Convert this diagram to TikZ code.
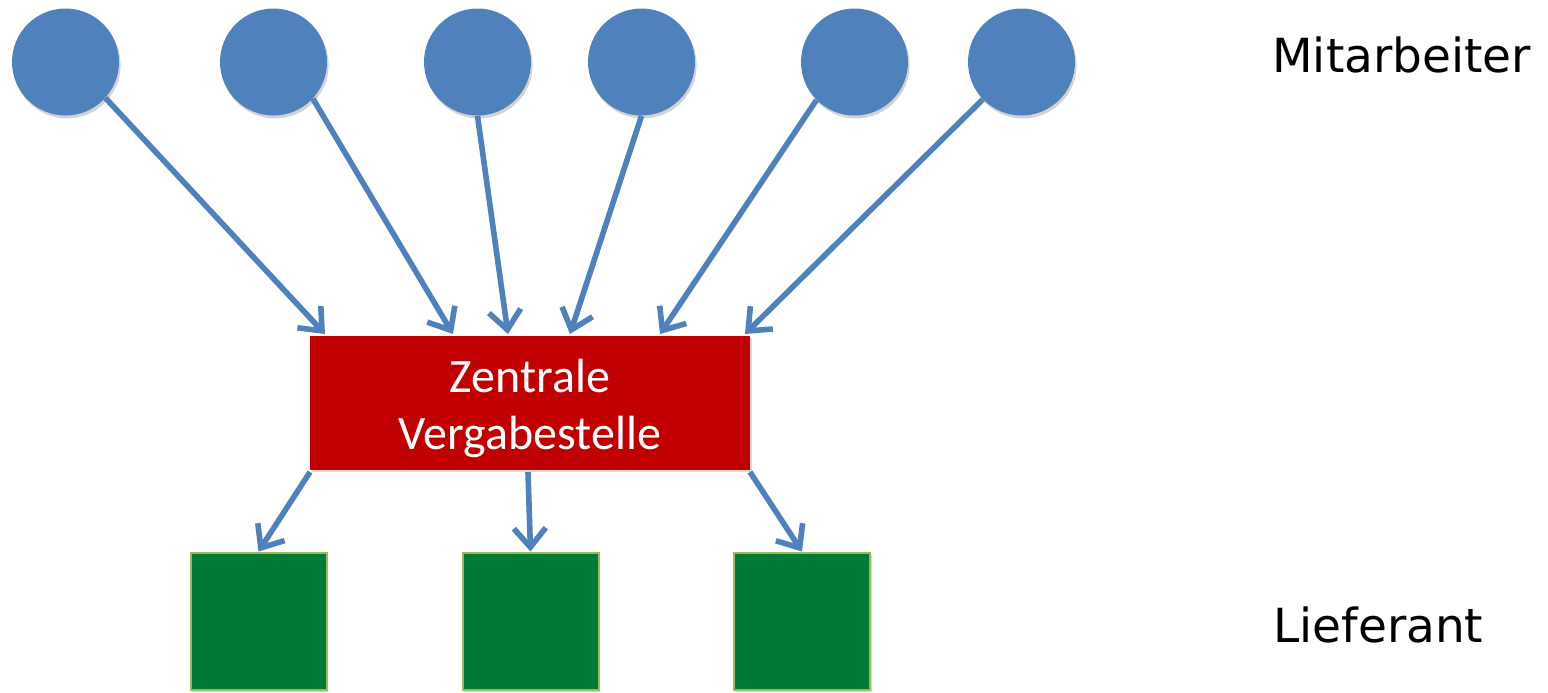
\documentclass[tikz,border=0pt]{standalone}
\usepackage{fontspec}
\setmainfont{DejaVu Sans}
\newfontfamily\boxfont{Carlito}
\usetikzlibrary{arrows.meta,shadows}
\definecolor{cblue}{HTML}{4F81BD}
\definecolor{cred}{HTML}{C00000}
\definecolor{cgreen}{HTML}{007A37}
\definecolor{cgreenb}{HTML}{9BBB59}
\tikzset{
  emp/.style={circle, fill=cblue, draw=none, minimum size=53.5pt, inner sep=0pt,
    drop shadow={opacity=0.35, shadow xshift=0.8pt, shadow yshift=-1.5pt}},
  supp/.style={rectangle, fill=cgreen, draw=cgreenb, line width=1pt, minimum width=68pt, minimum height=68.5pt, inner sep=0pt,
    drop shadow={opacity=0.3, shadow xshift=0.8pt, shadow yshift=-1.2pt}},
  central/.style={rectangle, fill=cred, draw=none, minimum width=220pt, minimum height=67pt, inner sep=0pt,
    drop shadow={opacity=0.3, shadow xshift=0.8pt, shadow yshift=-1.2pt}},
  centraltext/.style={inner sep=0pt, text=white, align=center, font=\boxfont\fontsize{24}{28.5}\selectfont},
  arr/.style={draw=cblue, line width=2.8pt, -{Straight Barb[length=9.5pt, width=16pt, line width=2.8pt]}},
  lbl/.style={anchor=base west, inner sep=0pt, font=\fontsize{23.5}{28}\selectfont}
}
\begin{document}
\begin{tikzpicture}[x=0.5pt, y=-0.5pt]
\useasboundingbox (0,0) rectangle (1548,692);
% employees
\node[emp] (c1) at (65.5,62) {};
\node[emp] (c2) at (273.5,62) {};
\node[emp] (c3) at (477.5,62) {};
\node[emp] (c4) at (641.5,62) {};
\node[emp] (c5) at (854.5,62) {};
\node[emp] (c6) at (1021.5,62) {};
% central office
\node[central] (zv) at (530,403) {};
\node[centraltext] (zvt) at (530,408) {Zentrale\\Vergabestelle};
% suppliers
\node[supp] (s1) at (258.5,621) {};
\node[supp] (s2) at (530.5,621) {};
\node[supp] (s3) at (802,621) {};
% labels
\node[lbl] (lm) at (1272,72) {Mitarbeiter};
\node[lbl] (ll) at (1273,642) {Lieferant};
% arrow targets on top of box
\coordinate (t1) at (325,334);
\coordinate (t2) at (453,334);
\coordinate (t3) at (508,334);
\coordinate (t4) at (570,334);
\coordinate (t5) at (660,334);
\coordinate (t6) at (745,334);
% arrow sources on bottom of box
\coordinate (b1) at (310,472);
\coordinate (b2) at (528,472);
\coordinate (b3) at (750,472);
\draw[arr] (c1.-42) -- (t1);
\draw[arr] (c2.-43) -- (t2);
\draw[arr] (c3.-90.5) -- (t3);
\draw[arr] (c4.-90) -- (t4);
\draw[arr] (c5.-135) -- (t5);
\draw[arr] (c6.-136) -- (t6);
\draw[arr] (b1) -- (s1.north);
\draw[arr] (b2) -- (s2.north);
\draw[arr] (b3) -- (s3.north);
\end{tikzpicture}
\end{document}
